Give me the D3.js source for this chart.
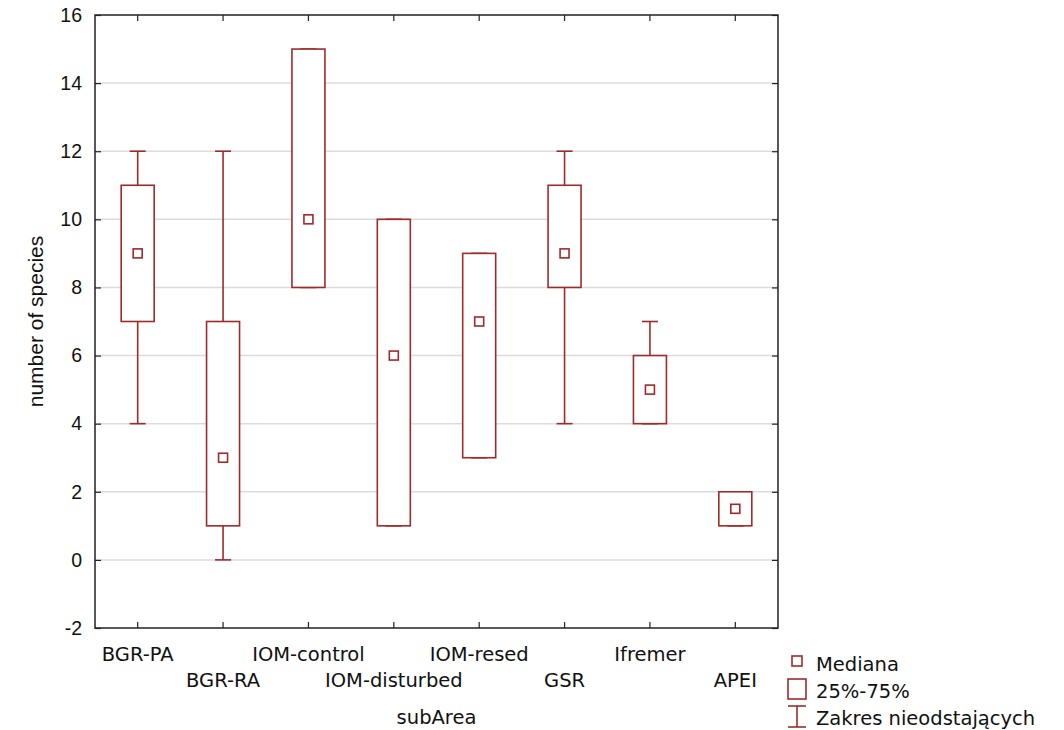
<!DOCTYPE html>
<html>
<head>
<meta charset="utf-8">
<script src="https://cdn.jsdelivr.net/npm/d3@7"></script>
<style>
  body { margin: 0; background: #fff; }
  text { font-family: "Liberation Sans", Arial, sans-serif; }
  .wide { font-family: "DejaVu Sans", Verdana, sans-serif; }
</style>
</head>
<body>
<div id="chart"></div>
<script>
var categories = ["BGR-PA", "BGR-RA", "IOM-control", "IOM-disturbed", "IOM-resed", "GSR", "Ifremer", "APEI"];
var mins    = [4, 0, 8, 1, 3, 4, 4, 1];
var q1s     = [7, 1, 8, 1, 3, 8, 4, 1];
var medians = [9, 3, 10, 6, 7, 9, 5, 1.5];
var q3s     = [11, 7, 15, 10, 9, 11, 6, 2];
var maxs    = [12, 12, 15, 10, 9, 12, 7, 2];
var yTicks  = [-2, 0, 2, 4, 6, 8, 10, 12, 14, 16];
var legendLabels = ["Mediana", "25%-75%", "Zakres nieodstających"];

var color = "#9e2b2b";
var margin = { top: 15, right: 286, bottom: 102, left: 95 },
    width = 1064 - margin.left - margin.right,
    height = 730 - margin.top - margin.bottom;

var svg = d3.select("#chart")
    .append("svg")
    .attr("width", 1064)
    .attr("height", 730);

var g = svg.append("g")
    .attr("transform", "translate(" + margin.left + "," + margin.top + ")");

var x = d3.scaleBand()
    .domain(categories)
    .range([0, width]);

var y = d3.scaleLinear()
    .domain([-2, 16])
    .range([height, 0]);

// grid
g.selectAll(".grid")
    .data(yTicks.filter(function (d) { return d > -2 && d < 16; }))
    .enter()
    .append("line")
    .attr("x1", 0)
    .attr("x2", width)
    .attr("y1", function (d) { return y(d); })
    .attr("y2", function (d) { return y(d); })
    .attr("stroke", "#dcdcdc")
    .attr("stroke-width", 1.5);

// axes with inward ticks
var left = g.append("g")
    .call(d3.axisLeft(y).tickValues(yTicks).tickSize(-6).tickPadding(13)
        .tickFormat(function (d) { return String(d); }));
var right = g.append("g")
    .attr("transform", "translate(" + width + ",0)")
    .call(d3.axisRight(y).tickValues(yTicks).tickSize(-6).tickFormat(""));
var bottom = g.append("g")
    .attr("transform", "translate(0," + height + ")")
    .call(d3.axisBottom(x).tickSize(-6).tickFormat(""));
var top_ = g.append("g")
    .call(d3.axisTop(x).tickSize(-6).tickFormat(""));

[left, right, bottom, top_].forEach(function (a) {
    a.select(".domain").remove();
    a.selectAll(".tick line").attr("stroke", "#222").attr("stroke-width", 1.2);
});
left.selectAll(".tick text")
    .style("font-family", "'Liberation Sans', Arial, sans-serif")
    .style("font-size", "19.5px")
    .attr("fill", "#111");

// frame
g.append("rect")
    .attr("x", 0)
    .attr("y", 0)
    .attr("width", width)
    .attr("height", height)
    .attr("fill", "none")
    .attr("stroke", "#222")
    .attr("stroke-width", 1.5);

// category labels, staggered
g.selectAll(".cat")
    .data(categories)
    .enter()
    .append("text")
    .attr("class", "wide")
    .attr("x", function (d) { return x(d) + x.bandwidth() / 2; })
    .attr("y", function (d, i) { return height + (i % 2 === 0 ? 33 : 59); })
    .attr("text-anchor", "middle")
    .style("font-size", "19.5px")
    .attr("fill", "#111")
    .text(function (d) { return d; });

// axis titles
g.append("text")
    .attr("class", "wide")
    .attr("x", width / 2)
    .attr("y", height + 96)
    .attr("text-anchor", "middle")
    .style("font-size", "19.5px")
    .attr("fill", "#111")
    .text("subArea");

g.append("text")
    .attr("transform", "translate(-52," + (height / 2) + ") rotate(-90)")
    .attr("text-anchor", "middle")
    .style("font-size", "21px")
    .attr("fill", "#111")
    .text("number of species");

// boxes
var boxW = 33, capW = 16, medW = 9;
var cx = function (i) { return x(categories[i]) + x.bandwidth() / 2; };

var boxes = g.selectAll(".box")
    .data(categories)
    .enter()
    .append("g");

boxes.append("line")
    .attr("x1", function (d, i) { return cx(i); })
    .attr("x2", function (d, i) { return cx(i); })
    .attr("y1", function (d, i) { return y(maxs[i]); })
    .attr("y2", function (d, i) { return y(q3s[i]); })
    .attr("stroke", color).attr("stroke-width", 1.6);

boxes.append("line")
    .attr("x1", function (d, i) { return cx(i); })
    .attr("x2", function (d, i) { return cx(i); })
    .attr("y1", function (d, i) { return y(q1s[i]); })
    .attr("y2", function (d, i) { return y(mins[i]); })
    .attr("stroke", color).attr("stroke-width", 1.6);

boxes.append("line")
    .attr("x1", function (d, i) { return cx(i) - capW / 2; })
    .attr("x2", function (d, i) { return cx(i) + capW / 2; })
    .attr("y1", function (d, i) { return y(maxs[i]); })
    .attr("y2", function (d, i) { return y(maxs[i]); })
    .attr("stroke", color).attr("stroke-width", 1.6);

boxes.append("line")
    .attr("x1", function (d, i) { return cx(i) - capW / 2; })
    .attr("x2", function (d, i) { return cx(i) + capW / 2; })
    .attr("y1", function (d, i) { return y(mins[i]); })
    .attr("y2", function (d, i) { return y(mins[i]); })
    .attr("stroke", color).attr("stroke-width", 1.6);

boxes.append("rect")
    .attr("x", function (d, i) { return cx(i) - boxW / 2; })
    .attr("y", function (d, i) { return y(q3s[i]); })
    .attr("width", boxW)
    .attr("height", function (d, i) { return y(q1s[i]) - y(q3s[i]); })
    .attr("fill", "#fff")
    .attr("stroke", color).attr("stroke-width", 1.6);

boxes.append("rect")
    .attr("x", function (d, i) { return cx(i) - medW / 2; })
    .attr("y", function (d, i) { return y(medians[i]) - medW / 2; })
    .attr("width", medW)
    .attr("height", medW)
    .attr("fill", "#fff")
    .attr("stroke", color).attr("stroke-width", 1.6);

// legend
var lg = svg.append("g").attr("transform", "translate(797,0)");
lg.append("rect")
    .attr("x", -5).attr("y", 656).attr("width", 10).attr("height", 10)
    .attr("fill", "#fff").attr("stroke", color).attr("stroke-width", 1.6);
lg.append("rect")
    .attr("x", -9).attr("y", 679).attr("width", 18).attr("height", 20)
    .attr("fill", "#fff").attr("stroke", color).attr("stroke-width", 1.6);
lg.append("line")
    .attr("x1", -9).attr("x2", 9).attr("y1", 706).attr("y2", 706)
    .attr("stroke", color).attr("stroke-width", 1.6);
lg.append("line")
    .attr("x1", -9).attr("x2", 9).attr("y1", 727).attr("y2", 727)
    .attr("stroke", color).attr("stroke-width", 1.6);
lg.append("line")
    .attr("x1", 0).attr("x2", 0).attr("y1", 706).attr("y2", 727)
    .attr("stroke", color).attr("stroke-width", 1.6);

lg.selectAll(".lbl")
    .data(legendLabels)
    .enter()
    .append("text")
    .attr("class", "wide")
    .attr("x", 19)
    .attr("y", function (d, i) { return 671 + i * 27; })
    .style("font-size", "19.5px")
    .attr("fill", "#111")
    .text(function (d) { return d; });
</script>
</body>
</html>
